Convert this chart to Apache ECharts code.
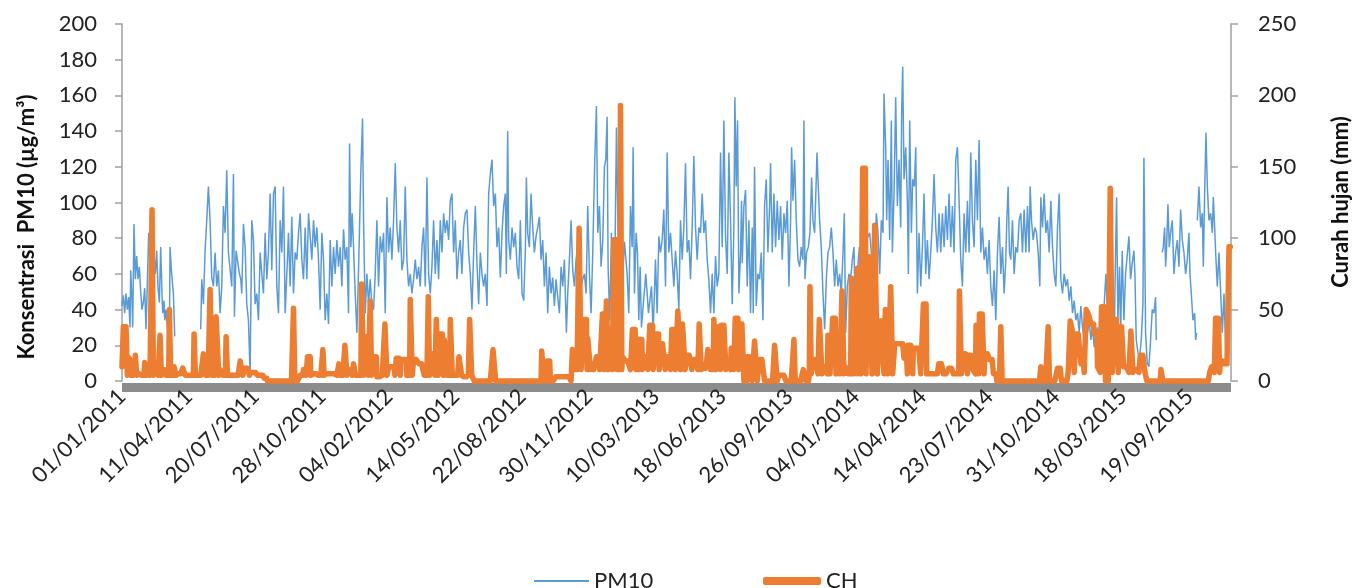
<!DOCTYPE html>
<html>
<head>
<meta charset="utf-8">
<script src="https://cdn.jsdelivr.net/npm/echarts@6/dist/echarts.min.js"></script>
<style>
html,body{margin:0;padding:0;background:#fff;}
#chart{width:1357px;height:588px;}
</style>
</head>
<body>
<div id="chart"></div>
<script>
// Row index of the daily record (x), last row index
const LAST = 1662;
// Tick labels, one every 100 rows
const tickLabels = ['01/01/2011','11/04/2011','20/07/2011','28/10/2011','04/02/2012','14/05/2012','22/08/2012','30/11/2012','10/03/2013','18/06/2013','26/09/2013','04/01/2014','14/04/2014','23/07/2014','31/10/2014','18/03/2015','19/09/2015'];

// PM10 (µg/m³) readings: [row, value]; '-' = missing data
const pm10 = [
[0,42],[2,48],[4,38],[6,49],[8,40],[10,47],[12,30],[13,62],[15,45],[16,30],[18,88],[20,57],[22,70],[24,57],[26,64],[28,50],[30,40],[32,44],[34,52],[36,29],[38,55],[40,83],[42,65],[44,50],[46,45],[48,70],[50,60],[52,73],[54,52],[56,44],[58,75],[60,48],[61,38],[63,45],[64,34],[66,40],[68,30],[70,36],[71,23],[72,75],[74,62],[77,49],[79,25],
[80,'-'],
[118,29],[119.5,57],[122,43],[124.5,73],[127,90],[129.5,109],[132,90],[134.5,58],[137,53],[139.5,72],[142,53],[144.5,62],[147,38],[149.5,53],[152,98],[154.5,83],[157,118],[159.5,72],[162,72],[164.5,53],[167,116],[168.5,36],[171,73],[173,72],[176,60],[178,57],[179.5,49],[182,88],[184.5,75],[187,43],[189.5,34],[192,4],[194.5,90],[197,79],[199.5,43],[202,49],[204.5,34],[207,72],[209.5,60],[212,49],[214.5,83],[217,57],[219.5,72],[222,105],[224.5,62],[227,105],[229.5,109],[232,53],[234.5,38],[237,90],[239.5,72],[242,109],[244.5,38],[247,60],[249.5,83],[252,53],[254.5,92],[257,49],[259.5,72],[262,68],[264.5,83],
[267,94],[269.5,68],[272,57],[274.5,86],[277,57],[279.5,94],[282,81],[284.5,68],[287,90],[289.5,75],[292,86],[294.5,68],[297,40],[299.5,83],[302,68],[304.5,34],[307,49],[309.5,32],[312,79],[314.5,53],[317,75],[319.5,60],[322,79],[324.5,64],[327,75],[329.5,53],[332,85],[334.5,68],[337,75],[339.5,38],[341,133],[343,75],[345,94],[347,75],[349.5,49],[352,27],[354.5,62],[358,118],[360.5,147],[362,90],[364.5,38],[367,60],[369.5,43],[372,57],[374.5,42],[377,40],[379.5,60],[382,90],[384.5,53],[387,81],[389.5,72],[392,83],[394.5,38],[397,103],[399.5,72],[402,86],[404.5,68],[407,90],[409.5,122],[412,86],[414.5,72],[417,90],[419.5,62],[422,68],[424.5,109],[427,68],[429.5,53],[432,60],[434.5,49],[437,57],[439.5,68],[442,57],[444.5,64],[447,53],[449.5,75],[452,86],[454.5,53],[457,114],[459.5,60],[462,49],[464.5,64],[467,90],[469.5,60],[472,79],[474.5,57],[477,90],[479.5,72],[482,94],[484.5,83],[487,90],[489.5,79],[492,101],[494.5,105],[497,72],[499.5,90],[502,57],[504.5,72],[507,79],[509.5,60],[512,86],[514.5,94],[517,96],[519.5,72],[522,60],[524.5,40],[527,72],[529.5,98],[532,66],[534.5,43],[537,72],[539.5,60],[542,53],[544.5,60],[547,42],[549.5,105],[552,116],[554.5,124],[557,98],[559.5,105],[562,75],[564.5,86],[567,58],
[569.5,83],[572,98],[574.5,105],[576,60],[578,140],[579.5,79],[582,68],[584.5,86],[587,75],[589.5,83],[592,64],[594.5,57],[597,90],[599.5,49],[602,45],[604.5,73],[606,114],[608,83],[610.5,75],[613,105],[615.5,86],[618,72],[620.5,81],[623,86],[625.5,92],[628,68],[630.5,79],[633,53],[635.5,72],[638,38],[640.5,64],[643,49],[645.5,58],[648,42],[650.5,57],[653,47],[655.5,38],[658,64],[660.5,53],[663,68],[666,27],[668,49],[670.5,68],[673,90],[675.5,62],[678,53],[680.5,68],[683,75],[685.5,68],[688,53],[690.5,57],[693,60],[695.5,49],[698,98],[700.5,60],[703,38],[705.5,72],[708.5,124],[711,154],[713,83],[715.5,98],[718,64],[720.5,79],[723,120],[725,124],[727,148],[728.5,64],[731,34],[733.5,83],[736,30],[738.5,60],[741,142],
[744,70],[747,85],[750,55],[753,78],
[757,60],[759.5,38],[762,98],[764.5,75],[766,131],[768,49],[770.5,83],[772.5,72],[774.5,34],[776.5,64],[778.5,30],[781,42],[785,60],[789,38],[793.5,53],[796,27],[799.5,68],[802,38],[804.5,81],[807,72],[809.5,79],[812,96],[814.5,53],[817,128],[819.5,72],[822,83],[824.5,68],[827,53],[829.5,73],[832,60],[834.5,40],[837,90],[839.5,68],[842,86],[844.5,122],[847,72],[849.5,79],[852,57],[854.5,86],[857,126],[859.5,86],[862,68],[864.5,86],[867,83],[869.5,105],[872,83],[874.5,90],[877,68],[879.5,57],[882,38],[884.5,60],[887,38],[889.5,70],[892,53],[894.5,60],[897,128],[899.5,75],[902,146],[904.5,81],[907,60],[909.5,128],[912,90],[914.5,43],[917,86],[918.5,159],[920.5,109],[922.5,146],[924.5,49],[927,72],[928.5,101],
[929.5,66],[932,98],[934.5,107],[937,53],[939.5,90],[942,38],[944.5,86],[946,38],[948,120],[950.5,42],[953,60],[955.5,57],[958,72],[960.5,34],[963,98],[965.5,113],[968,72],[970.5,98],[972,122],[974.5,72],[977,105],[979.5,75],[982,101],[984.5,79],[987,98],[989.5,68],[992,94],[994.5,83],[997,101],[999.5,53],[1002,90],[1003.5,131],[1005.5,101],[1008,124],[1010.5,90],[1013,68],[1015.5,64],[1018,75],[1020.5,68],[1022,146],[1023.5,57],[1026,72],[1028.5,75],[1031,83],[1033.5,114],[1035.5,90],[1038,83],[1040.5,114],[1041.5,128],[1043.5,109],[1045.5,90],[1048,75],[1050.5,49],[1053,29],[1055.5,57],[1058,72],[1060.5,75],[1063,86],[1065.5,72],[1068,53],[1070.5,68],[1073,53],[1075.5,60],[1078,49],[1080.5,72],[1082.5,94],[1084.5,27],[1087,53],[1089.5,60],[1092,57],[1094.5,68],[1097,75],[1099.5,23],[1102,60],
[1105,75],[1108,55],[1111,88],[1114,62],[1117,80],
[1120.5,83],[1123,72],[1125.5,42],[1128,60],[1130.5,94],[1133,83],[1135.5,60],[1138,90],[1140.5,83],[1142,161],[1144.5,131],[1146,90],[1148,124],[1150.5,79],[1153,146],[1154.5,72],[1157,105],[1159.5,159],[1162,98],[1164.5,124],[1167,86],[1168.5,152],[1170,176],[1172,113],[1174.5,131],[1177,101],[1178.5,60],[1180.5,146],[1183,83],[1185,113],[1187.5,109],[1189.5,131],[1192,49],[1194.5,83],[1197,53],[1199.5,75],[1202,105],[1204.5,60],[1207,79],[1209.5,57],[1212,72],[1214.5,90],[1217,116],[1219.5,86],[1222,72],[1224.5,94],[1227,72],[1229.5,94],[1232,75],[1234.5,98],[1237,79],[1239.5,105],[1242,75],[1244.5,98],[1247,72],[1249.5,124],[1252,131],[1254.5,101],[1257,68],[1259.5,53],[1262,94],[1264.5,72],[1267,101],[1269.5,72],[1272,128],[1274.5,90],[1277,75],[1279.5,124],[1282,90],[1284.5,135],[1287,72],[1289.5,86],[1292,68],[1294.5,75],[1297,60],[1299.5,79],
[1302,53],[1304.5,42],[1307,62],[1309.5,34],[1312,72],[1314.5,92],[1317,60],[1319.5,75],[1322,49],[1324.5,68],[1326,90],[1328,109],[1330,72],[1332,68],[1334.5,90],[1337,60],[1339.5,75],[1342,72],[1344.5,90],[1347,94],[1349.5,72],[1352,96],[1354.5,72],[1357,98],[1359.5,72],[1361,109],[1363,90],[1365.5,79],[1368,86],[1370.5,83],[1373,72],[1375.5,53],[1377,103],[1379.5,86],[1382,105],[1384.5,83],[1387,90],[1389.5,72],[1392,101],[1394.5,75],[1397,60],[1399.5,53],[1402,86],[1404.5,105],[1407,57],[1409.5,49],[1412,60],[1414.5,53],[1417,57],[1419.5,45],[1422,53],[1424.5,38],[1427,45],[1429.5,34],[1432,38],[1434.5,27],[1437,42],[1439.5,30],[1442,23],[1444.5,34],[1447,27],[1449.5,34],[1452,23],[1454.5,30],[1457,19],[1459.5,27],[1462,30],[1464.5,23],[1467,34],[1469.5,27],[1472,43],[1474.5,60],[1477,38],[1479.5,27],[1482,16],[1484.5,10],[1487,25],
[1489,72],[1490.5,103],[1492.5,34],[1495,64],[1496.5,25],[1499,73],[1501.5,34],[1504,60],[1506.5,60],[1509,81],[1511.5,57],[1514,66],[1516.5,73],[1518,60],[1520,23],[1522.5,16],[1525,13],[1527.5,23],[1530,43],[1531.5,125],[1534,27],[1536.5,10],[1539,8],[1541.5,23],[1544,40],[1546.5,38],[1549,47],[1550,23],
[1554,'-'],
[1559,72],[1560.5,75],[1562.5,86],[1564,64],[1565.5,75],[1567.5,99],[1569.5,75],[1571.5,83],[1574,90],[1576.5,60],[1579,72],[1581.5,79],[1584,64],[1586.5,96],[1589,79],[1591.5,72],[1594,60],[1596.5,68],[1599,83],[1600.5,60],[1602.5,49],[1605,34],[1607.5,38],[1609,23],[1610.5,27],
[1611,'-'],
[1611.5,90],[1614,109],[1616.5,86],[1619,94],[1620.5,64],[1622.5,105],[1624.5,139],[1626.5,109],[1629,90],[1631.5,94],[1634,83],[1635.5,103],[1637.5,86],[1639,72],[1641.5,53],[1644,72],[1646.5,73],[1649,27],[1651.5,49],[1654,19],[1656.5,30],[1659,45],[1661.5,49]
];

// Rainfall CH (mm): wet-season background runs [fromRow, toRow, mm]
const chBase = [[0,215,4],[267,527,4],[650,672,3],[676,930,8],[1030,1310,5],[1418,1535,6],[1630,1662,6]];
// Rain events [fromRow, toRow, mm]; all other rows are 0 mm
const chRuns = [
[0,1,10],[2,7,38],[11,12,16],[20,21,18],[26,28,5],[34,36,13],[39,41,8],[45,46,120],[50,53,10],[57,58,32],[63,65,8],[71,72,50],[78,80,10],[84,88,5],[91,94,9],[108,109,33],[122,124,19],[132,134,64],[141,144,45],[147,150,8],[156,157,31],[163,166,4],[177,180,14],[184,190,9],[192,202,6],[203,212,4],[213,217,2],[257,258,51],[272,275,8],[278,282,17],
[285,293,5],[301,302,22],[306,321,5],[325,326,12],[334,336,25],[339,344,8],[347,349,12],[350,354,4],[359,361,68],[365,368,31],[372,373,56],[377,381,17],[382,387,3],[394,396,40],[400,408,10],[411,416,16],[418,426,15],[432,434,57],[437,444,15],[445,452,12],[459,460,59],[463,468,19],[471,473,43],[476,481,33],[483,486,29],[492,494,43],[505,508,17],[510,516,3],[521,523,43],[556,559,22],
[629,631,21],[637,641,14],[675,677,22],[685,687,107],[692,696,43],[698,701,30],[703,706,12],[711,715,17],[720,722,47],[726,728,56],[730,734,36],[737,741,99],
[747,748,193],[750,753,17],[754,761,14],[765,769,36],[775,779,29],[782,787,17],[791,795,39],[800,804,33],[806,813,26],[815,821,17],[824,828,36],[833,836,49],[840,843,40],[846,853,18],[855,862,15],[865,867,40],[871,876,9],[878,881,22],[887,889,43],[893,896,38],[898,904,39],[906,911,10],[913,916,23],[919,923,44],[925,929,40],
[930,931,39],[937,943,17],[948,951,28],[955,962,15],[978,981,25],[984,994,4],[1007,1008,29],[1021,1024,8],[1031,1032,66],[1036,1042,15],[1045,1048,43],[1051,1056,10],[1058,1060,32],[1065,1069,44],[1072,1075,33],[1079,1081,63],[1084,1087,10],[1093,1094,72],[1097,1100,28],[1102,1106,79],[1110,1114,149],
[1117,1119,60],[1120,1123,87],[1128,1131,109],[1135,1139,42],[1140,1141,19],[1144,1147,50],[1152,1154,66],[1158,1171,26],[1172,1176,16],[1178,1184,25],[1186,1196,23],[1201,1205,54],[1213,1220,5],[1224,1230,12],[1239,1245,9],[1255,1257,63],[1260,1266,19],[1268,1274,18],[1275,1278,8],[1280,1283,39],[1285,1291,47],[1293,1299,19],[1300,1305,15],
[1317,1318,38],[1377,1379,10],[1388,1389,38],[1402,1407,9],[1421,1423,42],[1424,1426,36],[1429,1436,33],[1437,1441,12],[1445,1448,50],[1449,1451,46],[1452,1456,40],[1457,1461,33],[1462,1465,10],[1468,1473,52],[1474,1480,0],[1481,1483,135],[1486,1492,43],[1494,1500,38],[1501,1508,10],[1512,1514,35],[1516,1523,8],[1526,1532,18],[1557,1559,8],[1633,1636,10],[1639,1644,44],[1646,1651,14],[1652,1658,12],[1659,1662,94]
];

// Expand the run lists into one value per row
const chDaily = new Array(LAST + 1).fill(0);
chBase.concat(chRuns).forEach(([a, b, v]) => { for (let i = a; i <= b; i++) chDaily[i] = v; });
const chData = chDaily.map((v, i) => [i, v]);

const FONT = 'Lato';
const chart = echarts.init(document.getElementById('chart'), null, {renderer: 'canvas'});
chart.setOption({
  animation: false,
  backgroundColor: '#ffffff',
  textStyle: {fontFamily: FONT},
  grid: {left: 122, right: 126, top: 24, bottom: 207, containLabel: false},
  legend: [
    {data: [{name: 'PM10', icon: 'rect'}], left: 529, top: 565, itemWidth: 55, itemHeight: 2,
     textStyle: {fontSize: 22, color: '#222', fontFamily: FONT}},
    {data: [{name: 'CH', icon: 'roundRect'}], left: 758, top: 565, itemWidth: 58, itemHeight: 8,
     textStyle: {fontSize: 22, color: '#222', fontFamily: FONT}}
  ],
  graphic: [
    {type: 'text', x: 27, y: 227, rotation: Math.PI / 2,
     style: {text: 'Konsentrasi  PM10 (µg/m³)', fontSize: 22, fontWeight: 'bold', fontFamily: FONT, fill: '#111', align: 'center', verticalAlign: 'middle'}},
    {type: 'text', x: 1341, y: 202, rotation: Math.PI / 2,
     style: {text: 'Curah hujan (mm)', fontSize: 22, fontWeight: 'bold', fontFamily: FONT, fill: '#111', align: 'center', verticalAlign: 'middle'}}
  ],
  xAxis: {
    type: 'value', min: 0, max: LAST, interval: 100, offset: 6,
    axisLine: {show: true, onZero: false, lineStyle: {color: '#8c8c8c', width: 9, cap: 'butt'}},
    axisTick: {show: false}, splitLine: {show: false},
    axisLabel: {rotate: 45, margin: 6, fontSize: 22, color: '#222', fontFamily: FONT,
      showMaxLabel: false,
      formatter: v => (v % 100 === 0 && tickLabels[v / 100]) ? tickLabels[v / 100] : ''}
  },
  yAxis: [
    {type: 'value', min: 0, max: 200, interval: 20, position: 'left',
     axisLine: {show: true, lineStyle: {color: '#a0a0a0', width: 1.5}},
     axisTick: {show: true, length: 7, lineStyle: {color: '#a0a0a0', width: 1.5}},
     splitLine: {show: false},
     axisLabel: {fontSize: 22, margin: 25, color: '#222', fontFamily: FONT}},
    {type: 'value', min: 0, max: 250, interval: 50, position: 'right',
     axisLine: {show: true, lineStyle: {color: '#a0a0a0', width: 1.5}},
     axisTick: {show: true, length: 7, lineStyle: {color: '#a0a0a0', width: 1.5}},
     splitLine: {show: false},
     axisLabel: {fontSize: 22, margin: 27, color: '#222', fontFamily: FONT}}
  ],
  series: [
    {name: 'PM10', type: 'line', yAxisIndex: 0, data: pm10, symbol: 'none', showSymbol: false,
     connectNulls: false, lineStyle: {color: '#5b9bd5', width: 1.5}, itemStyle: {color: '#5b9bd5'}, z: 2},
    {name: 'CH', type: 'line', yAxisIndex: 1, data: chData, symbol: 'none', showSymbol: false, clip: false,
     lineStyle: {color: '#ed7d31', width: 5.5, cap: 'round', join: 'round'}, itemStyle: {color: '#ed7d31'}, z: 3}
  ]
});
</script>
</body>
</html>
